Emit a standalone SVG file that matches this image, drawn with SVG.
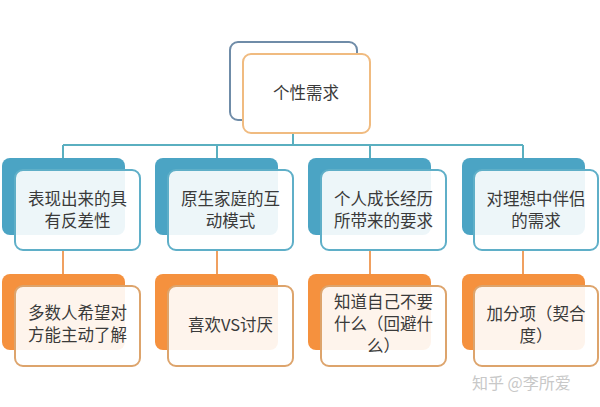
<svg xmlns="http://www.w3.org/2000/svg" width="600" height="407" viewBox="0 0 600 407">
<style>
text{font-family:"Noto Sans CJK SC","Noto Sans",sans-serif;font-size:16.5px;fill:#3a3a3a;text-anchor:middle}
.tb{fill:#fff;stroke:#6f8ca8;stroke-width:2}
.tf{fill:#fff;stroke:#f0bb80;stroke-width:2}
.bb{fill:#4ba4c4}
.bf{fill:#fff;fill-opacity:0.9;stroke:#5fafc8;stroke-width:2}
.ob{fill:#f5913e}
.of{fill:#fff;fill-opacity:0.9;stroke:#dda46c;stroke-width:2}
.cb{fill:none;stroke:#5aafc0;stroke-width:2}
.co{fill:none;stroke:#f0a060;stroke-width:2}
.wm{fill:#c8c8c8;font-size:16px;text-anchor:start}
</style>
<g id="connectors">
<path class="cb" d="M293 133V145M63 145H523M63 145V158M217 145V158M370 145V158M523 145V158"/>
<path class="co" d="M63 250V274M217 250V274M370 250V274M523 250V274"/>
</g>
<g id="root">
<rect class="tb" x="230" y="42" width="127" height="78" rx="8"/>
<rect class="tf" x="243" y="54" width="127" height="79" rx="8"/>
<text x="306" y="99">个性需求</text>
</g>
<g id="n1">
<rect class="bb" x="2" y="158" width="123" height="77" rx="8"/>
<rect class="bf" x="15" y="170" width="125" height="80" rx="8"/>
<text x="77.5" y="205">表现出来的具</text>
<text x="77.5" y="227">有反差性</text>
</g>
<g id="n2">
<rect class="bb" x="155" y="158" width="123" height="77" rx="8"/>
<rect class="bf" x="168" y="170" width="125" height="80" rx="8"/>
<text x="230.5" y="205">原生家庭的互</text>
<text x="230.5" y="227">动模式</text>
</g>
<g id="n3">
<rect class="bb" x="308" y="158" width="123" height="77" rx="8"/>
<rect class="bf" x="321" y="170" width="125" height="80" rx="8"/>
<text x="383.5" y="205">个人成长经历</text>
<text x="383.5" y="227">所带来的要求</text>
</g>
<g id="n4">
<rect class="bb" x="462" y="158" width="123" height="77" rx="8"/>
<rect class="bf" x="474" y="170" width="124" height="80" rx="8"/>
<text x="536" y="205">对理想中伴侣</text>
<text x="536" y="227">的需求</text>
</g>
<g id="m1">
<rect class="ob" x="2" y="274" width="123" height="76" rx="8"/>
<rect class="of" x="15" y="286" width="125" height="80" rx="8"/>
<text x="77.5" y="319">多数人希望对</text>
<text x="77.5" y="341">方能主动了解</text>
</g>
<g id="m2">
<rect class="ob" x="155" y="274" width="123" height="76" rx="8"/>
<rect class="of" x="168" y="286" width="125" height="80" rx="8"/>
<text x="230.5" y="331">喜欢VS讨厌</text>
</g>
<g id="m3">
<rect class="ob" x="308" y="274" width="123" height="76" rx="8"/>
<rect class="of" x="321" y="286" width="125" height="80" rx="8"/>
<text x="383.5" y="308">知道自己不要</text>
<text x="383.5" y="330">什么（回避什</text>
<text x="383.5" y="352">么）</text>
</g>
<g id="m4">
<rect class="ob" x="462" y="274" width="123" height="76" rx="8"/>
<rect class="of" x="474" y="286" width="124" height="80" rx="8"/>
<text x="536" y="320">加分项（契合</text>
<text x="536" y="342">度）</text>
</g>
<text class="wm" x="472" y="389">知乎 @李所爱</text>
</svg>
